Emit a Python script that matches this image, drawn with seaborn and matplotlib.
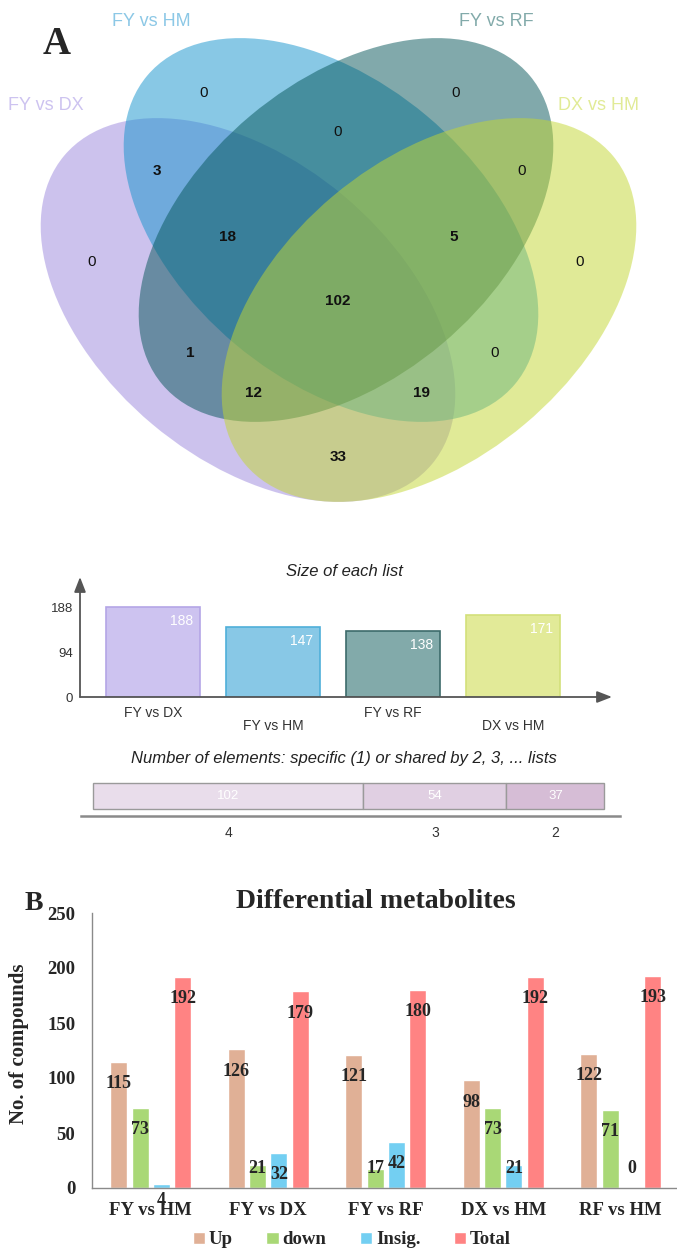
import numpy as np
import pandas as pd
import matplotlib.pyplot as plt
from matplotlib.patches import Ellipse
import seaborn as sns

# ---------------- data ----------------
# panel A - venn of the four comparisons
venn_sets = ['FY vs DX', 'FY vs HM', 'FY vs RF', 'DX vs HM']
venn_regions = ['A', 'B', 'C', 'D', 'AB', 'BC', 'CD', 'ABC', 'BCD',
                'ABCD', 'AC', 'BD', 'ACD', 'ABD', 'AD']
venn_counts = [0, 0, 0, 0, 3, 0, 0, 18, 5, 102, 1, 0, 12, 19, 33]

# size of each list / shared elements
list_sizes = [188, 147, 138, 171]
shared_by = ['4', '3', '2']
shared_counts = [102, 54, 37]

# panel B - differential metabolites
comparisons = ['FY vs HM', 'FY vs DX', 'FY vs RF', 'DX vs HM', 'RF vs HM']
up = [115, 126, 121, 98, 122]
down = [73, 21, 17, 73, 71]
insig = [4, 32, 42, 21, 0]
total = [192, 179, 180, 192, 193]
kinds = ['Up', 'down', 'Insig.', 'Total']

# ---------------- style ----------------
sns.set_style('white')
plt.rcParams['font.family'] = ['Liberation Sans', 'DejaVu Sans']
SERIF = ['Liberation Serif', 'DejaVu Serif']

W, H = 677, 1249


def box(l, t, r, b):
    # pixel box (left, top, right, bottom) -> figure rect
    return [l / W, 1 - b / H, (r - l) / W, (b - t) / H]


fig = plt.figure(figsize=(W / 100, H / 100), dpi=100)

# ---------------- panel A : venn ----------------
ax_v = fig.add_axes([0, 1 - 520 / H, 1, 520 / H])
ax_v.set_xlim(0, W)
ax_v.set_ylim(520, 0)
ax_v.axis('off')

fill_cols = ['#9B87DD', '#1393CD', '#055559', '#C3D731']
text_cols = ['#CDC3F0', '#8CC8E6', '#82AAAA', '#E1EB96']
ell_xy = [(248, 310), (331, 230), (346, 230), (429, 310)]
ell_ang = [40, 40, 140, 140]
for xy, ang, c in zip(ell_xy, ell_ang, fill_cols):
    ax_v.add_patch(Ellipse(xy, width=480, height=298, angle=ang,
                           facecolor=c, alpha=0.5, edgecolor='none'))

set_pos = [(46, 106), (151, 21), (496, 21), (598, 106)]
for name, (x, y), c in zip(venn_sets, set_pos, text_cols):
    ax_v.text(x, y, name, color=c, fontsize=13, ha='center', va='center')

region_pos = {'A': (92, 262), 'B': (204, 93), 'C': (456, 93), 'D': (580, 262),
              'AB': (157, 171), 'BC': (338, 132), 'CD': (522, 171),
              'ABC': (228, 237), 'BCD': (454, 237), 'ABCD': (338, 301),
              'AC': (190, 353), 'BD': (495, 353), 'ACD': (253, 393),
              'ABD': (422, 393), 'AD': (338, 457)}
for reg, n in zip(venn_regions, venn_counts):
    x, y = region_pos[reg]
    ax_v.text(x, y, str(n), fontsize=11, ha='center', va='center', color='#111',
              fontweight='bold' if n > 0 else 'normal')

fig.text(57 / W, 1 - 45 / H, 'A', family=SERIF, fontweight='bold', fontsize=28,
         ha='center', va='center')

# ---------------- size of each list ----------------
mid_cols = ['#CDC3F0', '#88C8E6', '#82AAAA', '#E2EA98']
mid_edges = ['#B4A5E6', '#4FAFD9', '#3D6B6B', '#D3E07A']
ax_m = fig.add_axes(box(80, 577, 612, 697))
sns.barplot(x=venn_sets, y=list_sizes, hue=venn_sets, palette=mid_cols,
            width=0.79, saturation=1, legend=False, ax=ax_m)
for p, ec in zip(ax_m.patches, mid_edges):
    p.set_edgecolor(ec)
    p.set_linewidth(1.2)
for p, v in zip(ax_m.patches, list_sizes):
    ax_m.annotate(str(v), xy=(p.get_x() + p.get_width(), v), xytext=(-5, -10),
                  textcoords='offset points', ha='right', va='center',
                  color='white', fontsize=10)
ax_m.set_xlim(-0.608, 3.825)
ax_m.set_ylim(0, 250.7)
ax_m.set_xlabel('')
ax_m.set_ylabel('')
for s in ax_m.spines.values():
    s.set_visible(False)
arrow = dict(arrowstyle='-|>,head_length=0.9,head_width=0.35', color='#555555',
             lw=1.3, shrinkA=0, shrinkB=0, mutation_scale=10)
ax_m.annotate('', xy=(0, 1), xytext=(0, 0), xycoords='axes fraction', arrowprops=arrow)
ax_m.annotate('', xy=(1, 0), xytext=(0, 0), xycoords='axes fraction', arrowprops=arrow)
ax_m.set_yticks([0, 94, 188])
ax_m.set_xticks([0, 2], [venn_sets[0], venn_sets[2]])
ax_m.set_xticks([1, 3], [venn_sets[1], venn_sets[3]], minor=True)
ax_m.tick_params(axis='both', which='both', direction='out', length=3,
                 width=1, color='#555555', labelcolor='#333333', labelsize=10)
ax_m.tick_params(axis='x', which='major', pad=3.5)
ax_m.tick_params(axis='x', which='minor', pad=12.5)
ax_m.tick_params(axis='y', labelsize=9.5, pad=2)
fig.text(344 / W, 1 - 572 / H, 'Size of each list', style='italic', fontsize=12,
         ha='center', va='center', color='#222222')

# ---------------- shared elements ----------------
seg_cols = ['#E9DDEB', '#E0CFE2', '#D6BDD6']
ax_s = fig.add_axes(box(81, 780, 620, 816))
lefts = np.concatenate([[0], np.cumsum(shared_counts)[:-1]])
ax_s.barh(0.556, shared_counts, left=lefts, height=0.722, color=seg_cols,
          edgecolor='#9a9a9a', linewidth=1)
for l, v in zip(lefts, shared_counts):
    ax_s.text(l + v / 2, 0.556, str(v), color='white', fontsize=9.5,
              ha='center', va='center')
ax_s.set_xlim(-4.53, 198.9)
ax_s.set_ylim(0, 1)
for k in ['left', 'right', 'top']:
    ax_s.spines[k].set_visible(False)
ax_s.spines['bottom'].set_color('#8a8a8a')
ax_s.spines['bottom'].set_linewidth(1.8)
ax_s.set_yticks([])
ax_s.set_xticks(lefts + np.array(shared_counts) / 2, shared_by)
ax_s.tick_params(axis='x', direction='out', length=4, width=1, color='#666666',
                 labelcolor='#333333', labelsize=10, pad=3)
fig.text(344 / W, 1 - 758 / H,
         'Number of elements: specific (1) or shared by 2, 3, ... lists',
         style='italic', fontsize=12, ha='center', va='center', color='#222222')

# ---------------- panel B ----------------
df_b = pd.DataFrame({
    'comparison': comparisons * 4,
    'type': [k for k in kinds for _ in comparisons],
    'count': up + down + insig + total,
})
b_cols = ['#E0B096', '#A9D876', '#73CFF2', '#FF8383']
ax_b = fig.add_axes(box(92, 913, 679.5, 1188))
sns.barplot(data=df_b, x='comparison', y='count', hue='type', palette=b_cols,
            width=0.725, gap=0.2, saturation=1, ax=ax_b)

lab_font = dict(family=SERIF, fontweight='bold', fontsize=13)
for cont, vals in zip(ax_b.containers, [up, down, insig, total]):
    for bar, v in zip(cont, vals):
        if v >= 30:
            y = v - 20
        elif v >= 10 or v == 0:
            y = 18
        else:
            y = -11
        ax_b.text(bar.get_x() + bar.get_width() / 2, y, str(v),
                  ha='center', va='center', **lab_font)

handles, labels = ax_b.get_legend_handles_labels()
ax_b.get_legend().remove()
fig.legend(handles, labels, ncol=4, loc='center',
           bbox_to_anchor=(352 / W, 1 - 1240 / H), frameon=False,
           handlelength=0.65, handleheight=0.65, handletextpad=0.2,
           columnspacing=1.8,
           prop=dict(family=SERIF, weight='bold', size=13.5))

ax_b.set_xlim(-0.5, 4.5)
ax_b.set_ylim(0, 250)
ax_b.set_yticks(range(0, 251, 50))
ax_b.set_xticks(np.arange(-0.5, 5, 1), minor=True)
ax_b.set_xlabel('')
ax_b.set_ylabel('No. of compounds', family=SERIF, fontweight='bold', fontsize=15)
ax_b.yaxis.set_label_coords(-0.107, 0.524)
for k in ['right', 'top']:
    ax_b.spines[k].set_visible(False)
for k in ['left', 'bottom']:
    ax_b.spines[k].set_color('#8a8a8a')
    ax_b.spines[k].set_linewidth(1)
ax_b.tick_params(axis='y', direction='out', length=3, color='#8a8a8a', pad=9)
ax_b.tick_params(axis='x', which='major', direction='in', length=4,
                 color='#8a8a8a', pad=10)
ax_b.tick_params(axis='x', which='minor', direction='inout', length=9,
                 color='#8a8a8a')
for lab in ax_b.get_xticklabels() + ax_b.get_yticklabels():
    lab.set_fontfamily(SERIF)
    lab.set_fontweight('bold')
    lab.set_fontsize(13.5)

fig.text(376 / W, 1 - 902 / H, 'Differential metabolites', family=SERIF,
         fontweight='bold', fontsize=20, ha='center', va='center')
fig.text(34 / W, 1 - 903 / H, 'B', family=SERIF, fontweight='bold', fontsize=20,
         ha='center', va='center')

fig.savefig('out.png', dpi=100)
